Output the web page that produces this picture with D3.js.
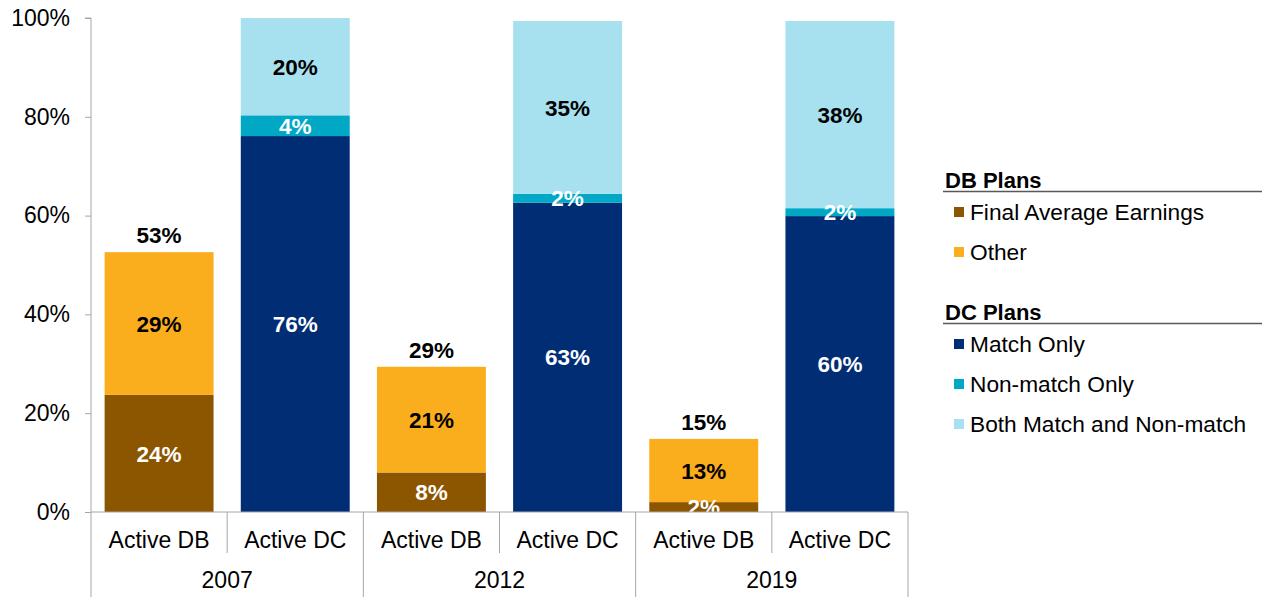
<!DOCTYPE html>
<html>
<head>
<meta charset="utf-8">
<script src="https://cdn.jsdelivr.net/npm/d3@7"></script>
<style>
  body { margin: 0; background: #fff; }
  svg { font-family: "Liberation Sans", Arial, sans-serif; }
</style>
</head>
<body>
<div id="chart"></div>
<script>
// data
var years = ["2007", "2012", "2019"];
var planTypes = ["Active DB", "Active DC"];
var dbKeys = ["Final Average Earnings", "Other"];
var dcKeys = ["Match Only", "Non-match Only", "Both Match and Non-match"];
var dbFinalAvg = [23.7, 8.0, 2.0];
var dbOther = [28.9, 21.4, 12.8];
var dcMatch = [76.1, 62.6, 59.9];
var dcNonMatch = [4.2, 1.8, 1.6];
var dcBoth = [19.7, 35.0, 37.9];
var yTicks = [0, 20, 40, 60, 80, 100];

var colors = {
  "Final Average Earnings": "#8c5600",
  "Other": "#fbae1d",
  "Match Only": "#002d74",
  "Non-match Only": "#00a8c6",
  "Both Match and Non-match": "#a7e1f0"
};
var labelColor = {
  "Final Average Earnings": "#fff",
  "Other": "#000",
  "Match Only": "#fff",
  "Non-match Only": "#fff",
  "Both Match and Non-match": "#000"
};

var width = 1262, height = 597;
var margins = { left: 91, right: 354, top: 18, bottom: 85 };
var axisFont = "23px", labelFont = "22.5px", legendFont = "22.7px";

var svg = d3.select("#chart").append("svg")
  .attr("width", width)
  .attr("height", height);

// one row per bar
var bars = [];
years.forEach(function (yr, i) {
  bars.push({ key: yr + "|" + planTypes[0], year: yr, type: planTypes[0],
    segs: [[dbKeys[0], dbFinalAvg[i]], [dbKeys[1], dbOther[i]]], total: true });
  bars.push({ key: yr + "|" + planTypes[1], year: yr, type: planTypes[1],
    segs: [[dcKeys[0], dcMatch[i]], [dcKeys[1], dcNonMatch[i]], [dcKeys[2], dcBoth[i]]], total: false });
});

var xScale = d3.scaleBand()
  .domain(bars.map(function (d) { return d.key; }))
  .range([margins.left, width - margins.right])
  .paddingInner(0.2)
  .paddingOuter(0.1);

var yScale = d3.scaleLinear()
  .domain([0, 100])
  .range([height - margins.bottom, margins.top]);

// stack segments
bars.forEach(function (b) {
  var acc = 0;
  b.stack = b.segs.map(function (s) {
    var r = { name: s[0], v: s[1], y0: acc, y1: acc + s[1] };
    acc += s[1];
    return r;
  });
  b.sum = acc;
});

var barG = svg.selectAll("g.bar")
  .data(bars)
  .enter()
  .append("g")
  .attr("class", "bar");

barG.selectAll("rect")
  .data(function (d) { return d.stack.map(function (s) { s.key = d.key; return s; }); })
  .enter()
  .append("rect")
  .attr("x", function (d) { return xScale(d.key); })
  .attr("y", function (d) { return yScale(d.y1); })
  .attr("width", xScale.bandwidth())
  .attr("height", function (d) { return yScale(d.y0) - yScale(d.y1); })
  .attr("fill", function (d) { return colors[d.name]; });

barG.selectAll("text.seg")
  .data(function (d) { return d.stack; })
  .enter()
  .append("text")
  .attr("class", "seg")
  .attr("x", function (d) { return xScale(d.key) + xScale.bandwidth() / 2; })
  .attr("y", function (d) { return (yScale(d.y0) + yScale(d.y1)) / 2; })
  .attr("dy", "0.36em")
  .attr("text-anchor", "middle")
  .attr("font-size", labelFont)
  .attr("font-weight", "bold")
  .attr("fill", function (d) { return labelColor[d.name]; })
  .text(function (d) { return Math.round(d.v) + "%"; });

// totals above the DB bars
svg.selectAll("text.total")
  .data(bars.filter(function (d) { return d.total; }))
  .enter()
  .append("text")
  .attr("class", "total")
  .attr("x", function (d) { return xScale(d.key) + xScale.bandwidth() / 2; })
  .attr("y", function (d) { return yScale(d.sum) - 17; })
  .attr("dy", "0.36em")
  .attr("text-anchor", "middle")
  .attr("font-size", labelFont)
  .attr("font-weight", "bold")
  .attr("fill", "#000")
  .text(function (d) { return Math.round(d.sum) + "%"; });

// y axis
var yAxis = d3.axisLeft(yScale)
  .tickValues(yTicks)
  .tickSize(6)
  .tickPadding(15)
  .tickFormat(function (d) { return d + "%"; });

var yG = svg.append("g")
  .attr("class", "y-axis")
  .attr("transform", "translate(" + margins.left + ",0)")
  .call(yAxis);
yG.select(".domain").attr("stroke", "#a6a6a6").attr("d",
  "M-6," + yScale(100) + "H0V" + height);
yG.selectAll(".tick line").attr("stroke", "#a6a6a6");
yG.selectAll(".tick text")
  .attr("font-size", axisFont)
  .attr("font-family", "Liberation Sans, Arial, sans-serif")
  .attr("fill", "#000");

// x axis (two levels)
var base = yScale(0);
var gap = (xScale.step() - xScale.bandwidth()) / 2;
var xG = svg.append("g").attr("class", "x-axis");
xG.append("line")
  .attr("x1", margins.left).attr("x2", width - margins.right)
  .attr("y1", base).attr("y2", base)
  .attr("stroke", "#a6a6a6");

bars.forEach(function (b, i) {
  var left = xScale(b.key) - gap;
  if (i > 0) {
    xG.append("line")
      .attr("x1", left).attr("x2", left)
      .attr("y1", base).attr("y2", i % 2 === 0 ? height : base + 41)
      .attr("stroke", "#a6a6a6");
  }
  xG.append("text")
    .attr("x", xScale(b.key) + xScale.bandwidth() / 2)
    .attr("y", base + 36)
    .attr("text-anchor", "middle")
    .attr("font-size", axisFont)
    .attr("fill", "#000")
    .text(b.type);
});
xG.append("line")
  .attr("x1", width - margins.right).attr("x2", width - margins.right)
  .attr("y1", base).attr("y2", height)
  .attr("stroke", "#a6a6a6");

years.forEach(function (yr) {
  var a = xScale(yr + "|" + planTypes[0]);
  var b = xScale(yr + "|" + planTypes[1]) + xScale.bandwidth();
  xG.append("text")
    .attr("x", (a + b) / 2)
    .attr("y", base + 76)
    .attr("text-anchor", "middle")
    .attr("font-size", axisFont)
    .attr("fill", "#000")
    .text(yr);
});

// legend
var legendGroups = [
  { title: "DB Plans", keys: dbKeys, y: 188 },
  { title: "DC Plans", keys: dcKeys, y: 320 }
];
var legend = svg.append("g").attr("class", "legend");
legendGroups.forEach(function (g) {
  legend.append("text")
    .attr("x", 945)
    .attr("y", g.y)
    .attr("font-size", "22px")
    .attr("font-weight", "bold")
    .attr("fill", "#000")
    .text(g.title);
  legend.append("line")
    .attr("x1", 943).attr("x2", width)
    .attr("y1", g.y + 3.5).attr("y2", g.y + 3.5)
    .attr("stroke", "#595959")
    .attr("stroke-width", 1.5);
  g.keys.forEach(function (k, i) {
    var cy = g.y + 24 + i * 40;
    legend.append("rect")
      .attr("x", 954).attr("y", cy - 5)
      .attr("width", 10).attr("height", 10)
      .attr("fill", colors[k]);
    legend.append("text")
      .attr("x", 970)
      .attr("y", cy)
      .attr("dy", "0.36em")
      .attr("font-size", legendFont)
      .attr("fill", "#000")
      .text(k);
  });
});
</script>
</body>
</html>
